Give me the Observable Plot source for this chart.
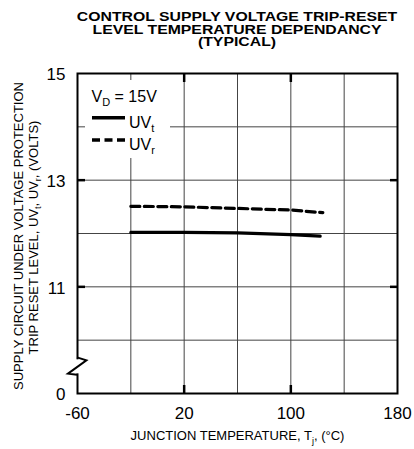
<!DOCTYPE html>
<html><head><meta charset="utf-8">
<script src="https://cdn.jsdelivr.net/npm/d3@7"></script>
<script src="https://cdn.jsdelivr.net/npm/@observablehq/plot@0.6"></script>
<style>
body{margin:0;background:#fff;}
#wrap{position:relative;width:414px;height:449px;font-family:"Liberation Sans",Arial,Helvetica,sans-serif;}
#title{position:absolute;left:77px;top:11px;width:320px;text-align:center;font-weight:bold;font-size:13.5px;line-height:12.6px;transform:scaleX(1.17);transform-origin:center;color:#000;}
#wrap svg{position:absolute;left:0;top:0;}
</style></head><body>
<div id="wrap"><div id="title">CONTROL SUPPLY VOLTAGE TRIP-RESET<br>LEVEL TEMPERATURE DEPENDANCY<br>(TYPICAL)</div></div>
<script>
// ---- data ----
const tempsT = [-20, 20, 60, 100, 122];
const uvT    = [12.02, 12.02, 12.01, 11.98, 11.95];
const tempsR = [-20, 20, 60, 100, 124];
const uvR    = [12.51, 12.50, 12.47, 12.44, 12.39];
const xGrid   = [-60, -20, 20, 60, 100, 140, 180];
const xLabels = [-60, 20, 100, 180];
const yGrid   = [9, 10, 11, 12, 13, 14, 15];
const yLabels = [9, 11, 13, 15];          // 9 = broken-axis origin, shown as "0"
const yLabelText = ["0", "11", "13", "15"];
const yMajorTicks = [11, 13];
const xMajorTicks = [20, 100];
const yBreak = 9.5;

const tData = tempsT.map((t, i) => ({t, v: uvT[i]}));
const rData = tempsR.map((t, i) => ({t, v: uvR[i]}));
const font = "Liberation Sans, Arial, Helvetica, sans-serif";

const plot = Plot.plot({
  width: 414, height: 449,
  marginLeft: 77, marginRight: 17, marginTop: 73, marginBottom: 56,
  style: {fontFamily: font, background: "transparent", color: "#000", overflow: "visible"},
  x: {domain: [-60, 180]},
  y: {domain: [9, 15]},
  marks: [
    Plot.gridX(xGrid, {stroke: "#444", strokeOpacity: 1, strokeWidth: 1}),
    Plot.gridY(yGrid, {stroke: "#444", strokeOpacity: 1, strokeWidth: 1}),
    Plot.frame({stroke: "#000", strokeWidth: 2}),
    Plot.axisX(xLabels, {tickSize: 0, tickPadding: 13, fontSize: 17, tickFormat: d => String(d), label: null}),
    Plot.axisY(yLabels, {tickSize: 0, tickPadding: 12, fontSize: 17, dy: 1.5,
      tickFormat: d => yLabelText[yLabels.indexOf(d)], label: null}),
    Plot.axisY(yMajorTicks, {anchor: "left", tickSize: -8, strokeWidth: 2.5, tickFormat: () => "", label: null}),
    Plot.axisY(yMajorTicks, {anchor: "right", tickSize: -8, strokeWidth: 2.5, tickFormat: () => "", label: null}),
    Plot.axisX(xMajorTicks, {anchor: "bottom", tickSize: -8, strokeWidth: 2.5, tickFormat: () => "", label: null}),
    Plot.axisX(xMajorTicks, {anchor: "top", tickSize: -8, strokeWidth: 2.5, tickFormat: () => "", label: null}),
    Plot.line(tData, {x: "t", y: "v", stroke: "#000", strokeWidth: 3.2}),
    Plot.line(rData, {x: "t", y: "v", stroke: "#000", strokeWidth: 3.2, strokeDasharray: "9,4.5"})
  ]
});

const wrap = document.getElementById("wrap");
wrap.insertBefore(plot, wrap.firstChild);

const svg = d3.select(plot);
const xs = plot.scale("x"), ys = plot.scale("y");
const x0 = xs.apply(-60), yb = ys.apply(yBreak);

// axis break zigzag
svg.append("rect").attr("x", x0 - 2.5).attr("y", yb - 7).attr("width", 5).attr("height", 14).attr("fill", "#fff");
svg.append("path")
  .attr("d", `M${x0},${yb - 9} L${x0 + 9.4},${yb - 6} L${x0 - 9},${yb + 7.3} L${x0},${yb + 8.3}`)
  .attr("fill", "none").attr("stroke", "#000").attr("stroke-width", 2).attr("stroke-linejoin", "miter");

// legend
const lg = svg.append("g").attr("font-family", font).attr("fill", "#000").attr("text-anchor", "start");
lg.append("rect").attr("x", 85).attr("y", 80).attr("width", 85).attr("height", 78).attr("fill", "#fff");
const vd = lg.append("text").attr("x", 91.5).attr("y", 102).attr("font-size", 16);
vd.append("tspan").text("V");
vd.append("tspan").attr("font-size", 11).attr("dy", 4).text("D");
vd.append("tspan").attr("dy", -4).text(" = 15V");
lg.append("line").attr("x1", 92).attr("x2", 125).attr("y1", 117.7).attr("y2", 117.7)
  .attr("stroke", "#000").attr("stroke-width", 3.5);
const ut = lg.append("text").attr("x", 129).attr("y", 127.5).attr("font-size", 16);
ut.append("tspan").text("UV");
ut.append("tspan").attr("font-size", 11).attr("dy", 4).text("t");
lg.append("line").attr("x1", 92).attr("x2", 125).attr("y1", 140).attr("y2", 140)
  .attr("stroke", "#000").attr("stroke-width", 3.5).attr("stroke-dasharray", "8,4.5");
const ur = lg.append("text").attr("x", 129).attr("y", 150).attr("font-size", 16);
ur.append("tspan").text("UV");
ur.append("tspan").attr("font-size", 11).attr("dy", 4).text("r");

// x axis label
const xl = svg.append("text").attr("x", 237.5).attr("y", 440).attr("text-anchor", "middle")
  .attr("font-family", font).attr("font-size", 13).attr("fill", "#000");
xl.append("tspan").text("JUNCTION TEMPERATURE, T");
xl.append("tspan").attr("font-size", 9).attr("dy", 3.5).text("j");
xl.append("tspan").attr("dy", -3.5).text(", (°C)");

// y axis label (two lines, rotated)
const yg = svg.append("g").attr("transform", "rotate(-90)").attr("font-family", font)
  .attr("font-size", 13).attr("fill", "#000").attr("text-anchor", "middle");
yg.append("text").attr("x", -236).attr("y", 22.6).text("SUPPLY CIRCUIT UNDER VOLTAGE PROTECTION");
const y2 = yg.append("text").attr("x", -237.5).attr("y", 37.6);
y2.append("tspan").text("TRIP RESET LEVEL, UV");
y2.append("tspan").attr("font-size", 9).attr("dy", 3.5).text("t");
y2.append("tspan").attr("dy", -3.5).text(", UV");
y2.append("tspan").attr("font-size", 9).attr("dy", 3.5).text("r");
y2.append("tspan").attr("dy", -3.5).text(", (VOLTS)");
</script>
</body></html>
